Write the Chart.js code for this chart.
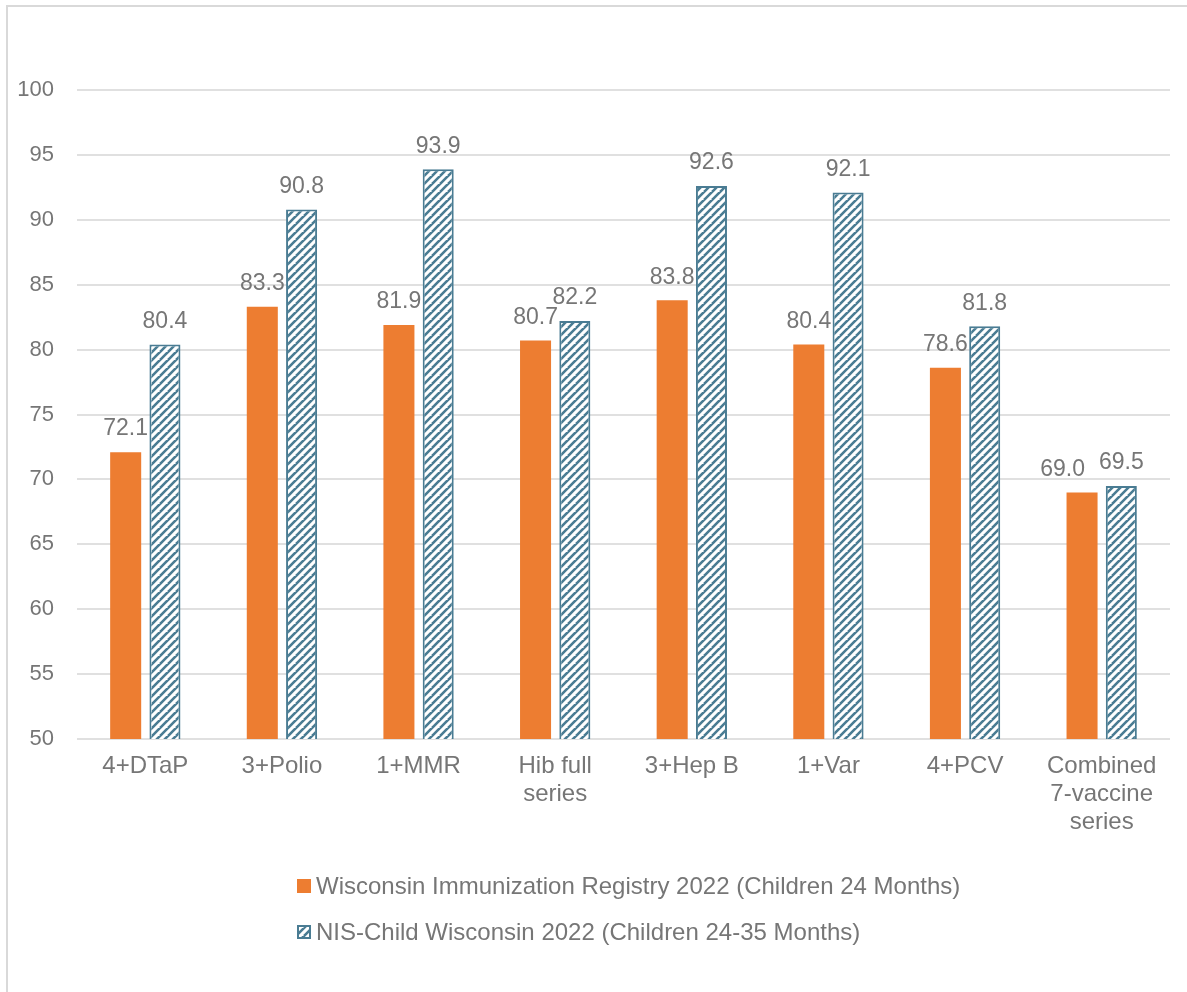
<!DOCTYPE html>
<html>
<head>
<meta charset="utf-8">
<script src="https://cdn.jsdelivr.net/npm/chart.js@4.4.1/dist/chart.umd.min.js"></script>
<style>
  html, body { margin: 0; padding: 0; background: #fff; }
  #wrap { position: relative; width: 1187px; height: 992px; }
</style>
</head>
<body>
<div id="wrap"><canvas id="chart" width="1187" height="992"></canvas></div>
<script>
const categories = ["4+DTaP", "3+Polio", "1+MMR", ["Hib full", "series"], "3+Hep B", "1+Var", "4+PCV", ["Combined", "7-vaccine", "series"]];
const registryValues = [72.1, 83.3, 81.9, 80.7, 83.8, 80.4, 78.6, 69.0];
const nisValues = [80.4, 90.8, 93.9, 82.2, 92.6, 92.1, 81.8, 69.5];
const seriesNames = [
  "Wisconsin Immunization Registry 2022 (Children 24 Months)",
  "NIS-Child Wisconsin 2022 (Children 24-35 Months)"
];
const yTicks = [50, 55, 60, 65, 70, 75, 80, 85, 90, 95, 100];

const ORANGE = "#ED7D31";
const TEAL = "#4A7C93";
const TEXT = "#767676";
const GRID = "#e0e0e0";
const FONT = "'Liberation Sans', Arial, sans-serif";

// upward diagonal hatch
function makeHatch() {
  const c = document.createElement("canvas");
  c.width = 8; c.height = 8;
  const g = c.getContext("2d");
  g.fillStyle = "#fff";
  g.fillRect(0, 0, 8, 8);
  g.strokeStyle = TEAL;
  g.lineWidth = 2.6;
  g.beginPath();
  for (let k = -8; k <= 16; k += 8) {
    g.moveTo(k - 8, 8);
    g.lineTo(k + 8, -8);
  }
  g.stroke();
  return g.createPattern(c, "repeat");
}
const hatch = makeHatch();

// value above each bar; when the two labels of a group collide, nudge the left one out of the way
const valueLabels = {
  id: "valueLabels",
  afterDatasetsDraw(chart) {
    const ctx = chart.ctx;
    ctx.save();
    ctx.font = "23px " + FONT;
    ctx.fillStyle = TEXT;
    ctx.textAlign = "center";
    ctx.textBaseline = "middle";
    const a = chart.getDatasetMeta(0).data;
    const b = chart.getDatasetMeta(1).data;
    const ds = chart.data.datasets;
    a.forEach((barA, j) => {
      const barB = b[j];
      const tA = ds[0].data[j].toFixed(1);
      const tB = ds[1].data[j].toFixed(1);
      const wA = ctx.measureText(tA).width;
      const wB = ctx.measureText(tB).width;
      let xA = barA.x;
      const yA = barA.y - 23, yB = barB.y - 23;
      if (Math.abs(yA - yB) < 15) {
        const need = (wA + wB) / 2 + 14;
        if (barB.x - xA < need) xA = barB.x - need;
      }
      ctx.fillText(tA, xA, yA);
      ctx.fillText(tB, barB.x, yB);
    });
    ctx.restore();
  }
};

const frameAndLegend = {
  id: "frameAndLegend",
  beforeDraw(chart) {
    const ctx = chart.ctx;
    ctx.save();
    ctx.fillStyle = "#d9d9d9";
    ctx.fillRect(6, 5, 2, chart.height);
    ctx.fillRect(6, 5, chart.width, 2);
    ctx.restore();
  },
  afterDraw(chart) {
    const ctx = chart.ctx;
    const rows = [886, 932];
    ctx.save();
    ctx.font = "24px " + FONT;
    ctx.textBaseline = "middle";
    ctx.textAlign = "left";
    chart.data.datasets.forEach((ds, i) => {
      const y = rows[i];
      if (i === 0) {
        ctx.fillStyle = ORANGE;
        ctx.fillRect(297, y - 7, 14, 14);
      } else {
        ctx.fillStyle = hatch;
        ctx.fillRect(297, y - 7, 14, 14);
        ctx.strokeStyle = TEAL;
        ctx.lineWidth = 2;
        ctx.strokeRect(298, y - 6, 12, 12);
      }
      ctx.fillStyle = TEXT;
      ctx.fillText(ds.label, 316, y + 1);
    });
    ctx.restore();
  }
};

new Chart(document.getElementById("chart"), {
  type: "bar",
  data: {
    labels: categories,
    datasets: [
      {
        label: seriesNames[0],
        data: registryValues,
        backgroundColor: ORANGE,
        borderWidth: 0
      },
      {
        label: seriesNames[1],
        data: nisValues,
        backgroundColor: hatch,
        borderColor: TEAL,
        borderWidth: 2
      }
    ]
  },
  options: {
    responsive: false,
    animation: false,
    categoryPercentage: 0.575,
    barPercentage: 0.79,
    layout: { padding: { left: 0, top: 90, right: 17, bottom: 0 } },
    plugins: {
      legend: { display: false },
      tooltip: { enabled: false }
    },
    scales: {
      x: {
        grid: { display: false, drawTicks: false },
        border: { display: false },
        ticks: {
          color: TEXT,
          font: { family: FONT, size: 24, lineHeight: 1.15 },
          padding: 14,
          maxRotation: 0,
          autoSkip: false
        },
        afterFit(scale) { scale.height = 253; }
      },
      y: {
        min: 50,
        max: 100,
        afterBuildTicks(scale) { scale.ticks = yTicks.map(v => ({ value: v })); },
        grid: { color: GRID, lineWidth: 2, drawTicks: false },
        border: { display: false },
        ticks: {
          color: TEXT,
          font: { family: FONT, size: 22 },
          padding: 23
        },
        afterFit(scale) { scale.width = 77; }
      }
    }
  },
  plugins: [valueLabels, frameAndLegend]
});
</script>
</body>
</html>
